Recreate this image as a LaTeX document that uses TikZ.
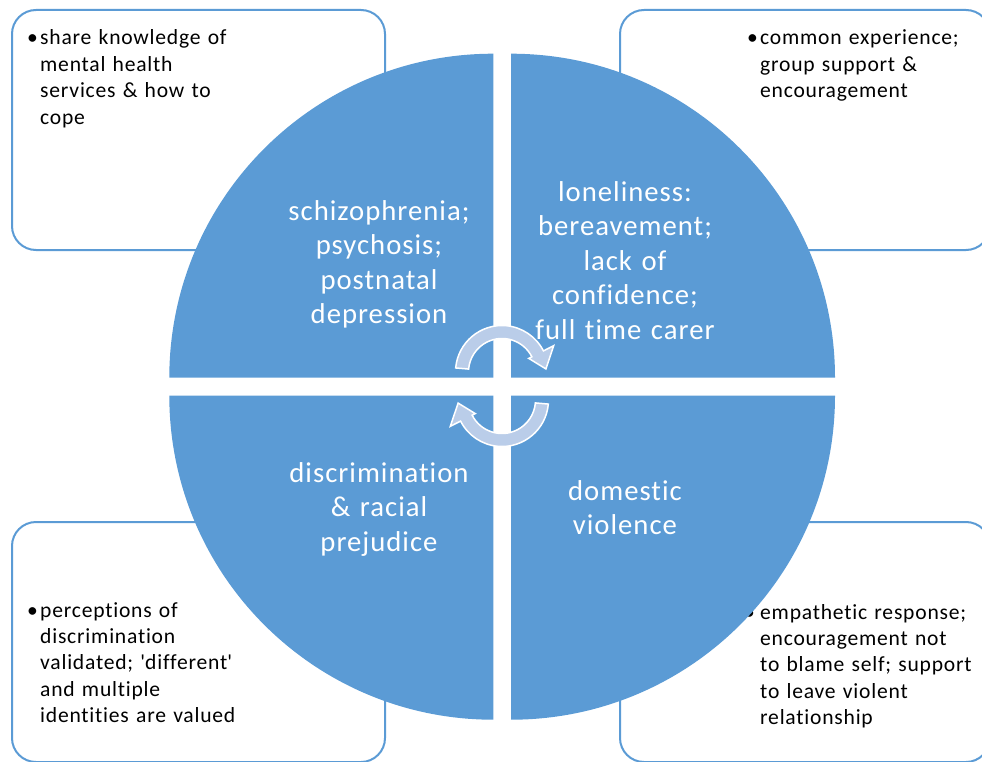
\documentclass[tikz,border=0pt]{standalone}
\usepackage{fontspec}
\setmainfont[LetterSpace=3,Ligatures=NoCommon]{Carlito}
\newfontfamily\circfont[LetterSpace=3.5,Ligatures=NoCommon]{Carlito}
\newfontfamily\boxfont[LetterSpace=3.6,Ligatures=NoCommon]{Carlito}
\usetikzlibrary{calc}
\definecolor{qblue}{RGB}{91,155,213}
\definecolor{arrfill}{RGB}{186,205,233}
\begin{document}
\begin{tikzpicture}[x=1pt,y=-1pt,
  box/.style={draw=qblue, line width=2pt, rounded corners=24pt},
  quad/.style={fill=qblue},
  ctext/.style={text=white, font=\circfont\fontsize{28.7}{34.6}\selectfont, align=center, text width=260pt, inner sep=0pt, anchor=base},
  btext/.style={font=\boxfont\fontsize{21.6}{26.4}\selectfont, align=left, text width=300pt, inner sep=0pt, anchor=base west},
  bul/.style={font=\boxfont\fontsize{21.6}{26.4}\selectfont, inner sep=0pt, anchor=base west},
  cyc/.style={fill=arrfill, draw=white, line width=1.5pt, line join=miter}]
\useasboundingbox (0,0) rectangle (982,762);
\begin{scope}
\clip (0,0) rectangle (982,762);
% boxes
\draw[box] (12,10) rectangle (385,250);
\draw[box] (620,10) rectangle (990,250);
\draw[box] (12,522) rectangle (385,762);
\draw[box] (620,522) rectangle (990,762);
% box texts
\node[bul] (b1) at (27,45) {•};
\node[btext] (t1) at (40,45) {share knowledge of\\mental health\\services \& how to\\cope};
\node[bul] (b2) at (747,45) {•};
\node[btext] (t2) at (760,45) {common experience;\\group support \&\\encouragement};
\node[bul] (b3) at (27,617) {•};
\node[btext] (t3) at (40,617) {perceptions of\\discrimination\\validated; \textquotesingle different\textquotesingle\\and multiple\\identities are valued};
\node[bul] (b4) at (744,619) {•};
\node[btext] (t4) at (760,619) {empathetic response;\\encouragement not\\to blame self; support\\to leave violent\\relationship};
% quadrants
\fill[quad] (493.3,377.7) -- ++(-324,0) arc[start angle=180,end angle=270,radius=324] -- cycle;
\fill[quad] (511,377.7) -- ++(0,-324) arc[start angle=270,end angle=360,radius=324] -- cycle;
\fill[quad] (511,395.7) -- ++(324,0) arc[start angle=0,end angle=90,radius=324] -- cycle;
\fill[quad] (493.3,395.7) -- ++(0,324) arc[start angle=90,end angle=180,radius=324] -- cycle;
\end{scope}
% quadrant texts
\node[ctext] (q1) at (379,220) {schizophrenia;\\psychosis;\\postnatal\\depression};
\node[ctext] (q2) at (625,201) {loneliness:\\bereavement;\\lack of\\confidence;\\full time carer};
\node[ctext] (q3) at (379,482) {discrimination\\\& racial\\prejudice};
\node[ctext] (q4) at (625,500) {domestic\\violence};
% cycle arrows
\coordinate (c1) at (502,372);
\coordinate (c2) at (502,400);
\draw[cyc] ($(c1)+(-175:46.5)$) arc[start angle=-175,end angle=-27,radius=46.5]
  -- ($(c1)+(-27:58)$) -- ($(c1)+(-4:44)$) -- ($(c1)+(-27:30)$) -- ($(c1)+(-27:33.5)$)
  arc[start angle=-27,end angle=-175,radius=33.5] -- cycle;
\draw[cyc] ($(c2)+(5:46.5)$) arc[start angle=5,end angle=153,radius=46.5]
  -- ($(c2)+(153:58)$) -- ($(c2)+(176:44)$) -- ($(c2)+(153:30)$) -- ($(c2)+(153:33.5)$)
  arc[start angle=153,end angle=5,radius=33.5] -- cycle;
\end{tikzpicture}
\end{document}
